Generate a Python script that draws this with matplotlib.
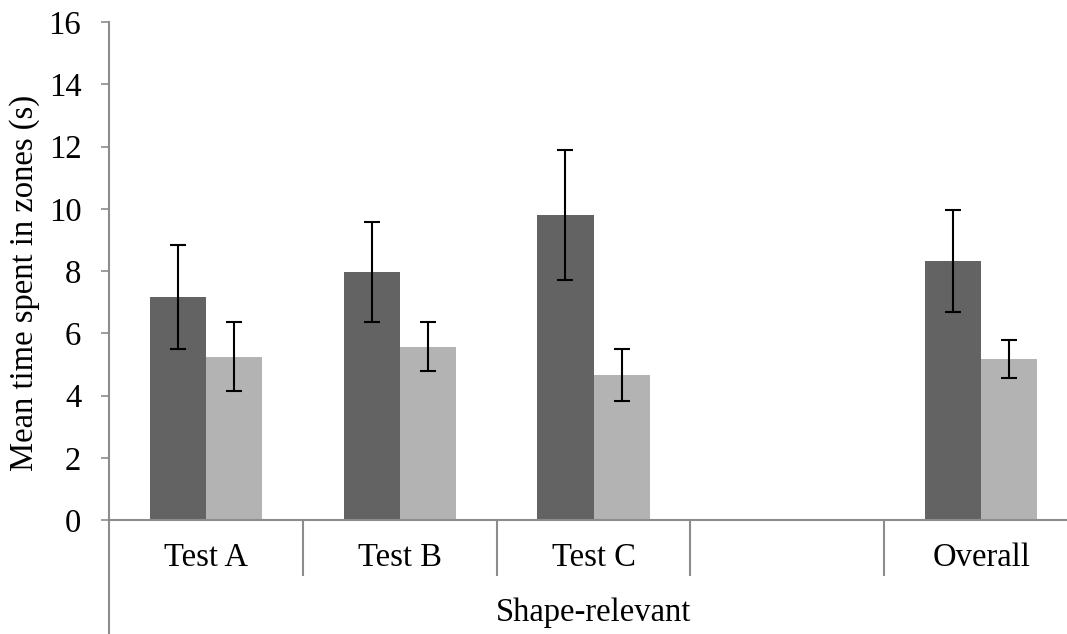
import matplotlib.pyplot as plt
import numpy as np

# data
categories = ["Test A", "Test B", "Test C", "", "Overall"]
group_label = "Shape-relevant"
dark_vals = [7.16, 7.96, 9.80, np.nan, 8.31]
dark_err = [1.66, 1.61, 2.10, np.nan, 1.64]
light_vals = [5.25, 5.57, 4.66, np.nan, 5.17]
light_err = [1.11, 0.79, 0.83, np.nan, 0.60]
yticks = [0, 2, 4, 6, 8, 10, 12, 14, 16]

plt.rcParams['font.family'] = ['Liberation Serif', 'DejaVu Serif']
axis_grey = '#8c8c8c'
fs = 23.5

fig = plt.figure(figsize=(10.67, 6.34), dpi=100)
ax = fig.add_axes([0.1022, 0.1798, 0.9082, 0.7855])

x = np.arange(len(categories))
w = 0.29
err_style = dict(ecolor='black', elinewidth=1.5, capsize=5.5, capthick=1.5)
ax.bar(x - w / 2, dark_vals, w, color='#636363', yerr=dark_err, error_kw=err_style)
ax.bar(x + w / 2, light_vals, w, color='#b3b3b3', yerr=light_err, error_kw=err_style)

ax.set_xlim(-0.5, len(categories) - 0.5)
ax.set_ylim(0, 16)
ax.set_yticks(yticks)
ax.tick_params(axis='y', direction='out', length=6, width=1.2, color=axis_grey,
               labelsize=fs, pad=14)
ax.set_xticks([])

for s in ['top', 'right', 'left']:
    ax.spines[s].set_visible(False)
ax.spines['bottom'].set_color(axis_grey)
ax.spines['bottom'].set_linewidth(1.5)

trans = ax.get_xaxis_transform()
# y axis line reaching down through the category rows
ax.plot([-0.5, -0.5], [1, -0.23], color=axis_grey, lw=1.5, transform=trans, clip_on=False)
# category dividers
for d in np.arange(0.5, len(categories) - 0.5, 1):
    ax.plot([d, d], [0, -0.11], color=axis_grey, lw=1.5, transform=trans, clip_on=False)

for i, c in enumerate(categories):
    ax.text(i, -0.076, c, transform=trans, ha='center', va='center', fontsize=fs)
ax.text((len(categories) - 1) / 2, -0.187, group_label, transform=trans,
        ha='center', va='center', fontsize=fs)

ax.set_ylabel('Mean time spent in zones (s)', fontsize=fs)
ax.yaxis.set_label_coords(-0.071, 0.476)

fig.savefig('out.png', dpi=100)
